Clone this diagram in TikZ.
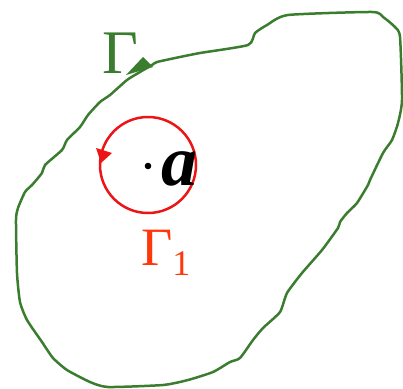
\documentclass[tikz,border=0pt]{standalone}
\usepackage{fontspec}
\setmainfont{Liberation Serif}
\begin{document}
\begin{tikzpicture}[x=1pt,y=-1pt,
  contour/.style={draw=gcol,line width=2.5pt,line join=round},
  loopc/.style={draw=rcol,line width=2.5pt}]
\definecolor{gcol}{RGB}{58,125,46}
\definecolor{rcol}{RGB}{236,20,20}
\definecolor{ocol}{RGB}{255,55,10}
\useasboundingbox (0,0) rectangle (403,388);
\draw[contour] plot[smooth cycle,tension=0.35] coordinates {
(248,45) (255,33) (267,25) (288,15) (372,12) (383,17) (395,27) (400,37)
(402,100) (398,123) (392,140) (383,153) (370,180) (368,185) (357,203)
(347,213) (340,222) (338,228) (322,250) (302,273) (287,293) (280,312)
(263,328) (253,340) (240,358) (230,362) (213,372) (188,380) (163,385)
(108,387) (90,382) (67,370) (53,358) (42,342) (27,320) (20,302) (17,273)
(16,220) (18,208) (25,192) (32,185) (42,173) (45,165) (62,150) (67,140)
(80,127) (88,115) (100,102) (110,95) (127,80) (140,72) (152,65) (157,62)
(180,57) (200,53)};
\fill[gcol] (126,75) -- (143,57) -- (153,67) -- cycle;
\draw[loopc] (148,165) circle (48);
\fill[rcol] (96,148) -- (112,153) -- (101,163) -- cycle;
\node[text=gcol,font=\fontsize{62}{62}\selectfont,inner sep=0] (G) at (120,53) {Γ};
\node[font=\fontsize{72}{72}\selectfont\bfseries\itshape,inner sep=0,anchor=base west] (a) at (161,185) {a};
\fill (148,166) circle (3.3) coordinate (dot);
\node[text=ocol,font=\fontsize{54}{54}\selectfont,inner sep=0,anchor=base west] (G1) at (141,265) {Γ\raisebox{-0.2em}{\fontsize{36}{36}\selectfont 1}};
\end{tikzpicture}
\end{document}
